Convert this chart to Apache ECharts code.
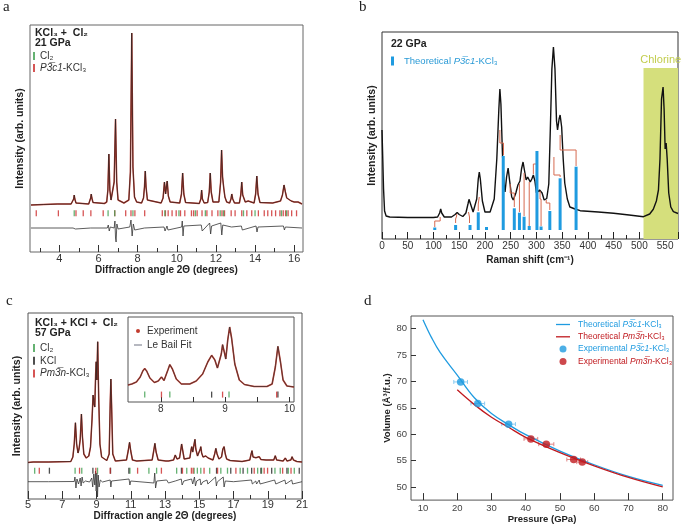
<!DOCTYPE html>
<html>
<head>
<meta charset="utf-8">
<script src="https://cdn.jsdelivr.net/npm/echarts@6/dist/echarts.min.js"></script>
<style>
  html, body { margin: 0; padding: 0; background: #fff; }
  #chart { width: 685px; height: 525px; }
</style>
</head>
<body>
<div id="chart"></div>
<script>
// ---------- panel a : XRD at 21 GPa ----------
const profA = [
  [2.55,47],[3.2,47.5],[3.9,48],[3.95,50],[4.0,48],[4.6,48],
  [4.68,49],[4.73,53],[4.76,57],[4.79,53],[4.85,49],
  [5.5,48],[5.57,50],[5.6,54],[5.63,58],[5.66,54],[5.72,49.5],
  [6.3,48.5],[6.42,50],[6.48,62],[6.53,98],[6.58,62],[6.64,52],[6.72,53],[6.8,70],[6.87,133],[6.93,70],[7.0,52],
  [7.3,49],[7.55,52],[7.63,80],[7.7,219],[7.76,85],[7.84,55],[7.95,50],
  [8.2,49],[8.3,54],[8.35,65],[8.39,81],[8.43,65],[8.5,52],
  [9.2,49],[9.3,54],[9.37,70],[9.43,58],[9.51,71],[9.57,56],[9.66,50],
  [10.15,49],[10.24,58],[10.3,79],[10.36,58],[10.45,49.5],
  [11.15,48.5],[11.23,53],[11.27,62],[11.31,53],[11.4,49],
  [11.58,49.5],[11.66,60],[11.71,79],[11.76,60],[11.85,50],
  [12.15,50],[12.24,70],[12.29,102],[12.34,75],[12.4,64],[12.46,55],[12.55,50],
  [12.7,49],[12.77,53],[12.81,58],[12.86,53],[12.95,49],
  [13.2,49],[13.27,57],[13.32,70],[13.37,57],[13.5,50],[13.65,51],[13.7,52],[13.75,50.5],
  [13.95,49],[14.03,58],[14.09,76],[14.15,58],[14.25,49.5],
  [14.9,49],[15.0,50],[15.3,51],[15.4,57],[15.48,67],[15.55,60],[15.62,54],[15.72,54.5],
  [15.85,51],[16.0,50],[16.1,51.5],[16.2,50],[16.4,48]
];
const diffA = [
  [2.55,24],[4.7,24],[4.76,26],[4.82,23],[5.6,24],[5.63,25.5],[5.68,23],[6.45,24],[6.5,27],[6.55,21],
  [6.6,25],[6.8,24],[6.84,31],[6.87,14],[6.9,10],[6.94,28],[7.0,23],[7.6,25],[7.66,32],[7.72,16],
  [7.78,28],[7.85,22],[8.35,24],[8.39,26],[8.43,22],[9.35,25],[9.4,21],[9.5,26],[9.55,22],[10.25,25],
  [10.28,31],[10.32,16],[10.36,26],[11.25,27],[11.3,21],[11.68,29],[11.73,18],[11.78,26],[12.25,29],
  [12.3,17],[12.35,27],[12.8,25],[13.3,26],[13.35,22],[14.05,26],[14.1,20],[14.15,25],[15.45,26],
  [15.5,22],[15.55,25],[16.4,24]
];
const reflA_Cl2 = [4.76,6.49,6.83,7.76,9.39,10.11,10.95,11.46,12.22,12.39,13.41,14.0,15.35,15.61];
const reflA_KCl3 = [2.82,3.95,4.85,5.22,5.61,6.24,6.83,7.39,7.66,7.86,8.36,9.26,9.42,9.56,9.76,9.97,
  10.19,10.41,10.75,10.86,11.04,11.29,11.54,11.80,12.10,12.31,12.44,12.78,12.98,13.32,13.58,13.83,
  14.17,14.47,14.65,14.85,15.05,15.27,15.44,15.56,15.69,15.87,16.12];
const tickRowA = 38.7;
const labelsA = [4,6,8,10,12,14,16];
const minorA = [3,5,7,9,11,13,15];

// ---------- panel b : Raman at 22 GPa ----------
const specB = [
  [0,109],[1.5,80],[3,50],[5,28],[8,23],[15,22],[50,21.5],[100,21.5],[108,22],[112,26],[114,30],[116,26],
  [121,22],[135,22],[142,24.5],[146,26.5],[150,24.5],[157,22.5],[163,26],[167,35],[169,39.7],[172,35],
  [177,27],[180,26],[184,40],[187,60],[189,67],[191,60],[195,38],[200,27],[210,27],[218,40],[223,80],
  [227,130],[229,150],[231,135],[234,85],[237,55],[239,47],[242,62],[245,71],[248,58],[252,42],[255,39],
  [260,46],[264,54],[268,58],[271,70],[274,77],[277,68],[280,59],[283,62],[285,63],[288,57],[291,60],
  [294,64],[297,58],[300,46],[303,45],[306,49],[308,50.7],[311,46],[315,39],[320,40.5],[324,55],
  [327,110],[330,170],[333,192],[336,170],[339,118],[341,109],[344,120],[346,124],[349,112],[352,80],
  [355,56],[360,40],[365,32],[375,30],[385,28.3],[420,27],[450,25.7],[480,24],[508,22.3],[520,25],
  [527,29.7],[533,38],[537,49],[540,80],[543,140],[546,152],[548,130],[550,90],[552,96],[554,80],
  [557,46],[561,32],[566,27.3],[575,25.5]
];
const modesB = [102.5,143,171,187,203,235.5,257,267,276,286,301,309,326,346,377];
const modeTopB = [11.5,14,14,26.7,12,83,30.7,26.3,22.3,13,88,12.5,28,60.7,72.3];
const modeBaseB = 9;
const linksB = [
  [[102.5,12],[102.5,18],[113,18],[113,22]],
  [[143,16],[143,20],[145,23],[145,25]],
  [[170,16],[170,22],[168,27]],
  [[187,28],[187,35],[189,42]],
  [[236,84],[236,96],[229,96],[229,109]],
  [[257,32],[257,46],[249,46],[249,55]],
  [[267,27],[267,55]],
  [[276,23],[276,66]],
  [[286,13],[286,57]],
  [[294,65],[294,75],[301,75]],
  [[309,13],[309,40],[307,40],[307,48]],
  [[326,29],[326,36],[319,36],[319,39]],
  [[346,62],[346,64],[334,64],[334,82]],
  [[377,73],[377,89],[346,89],[346,104]]
];
const chlorineBand = [508, 575];
const chlorineTop = 171;

// ---------- panel c : XRD at 57 GPa ----------
const profC = [
  [5,36.5],[5.3,37],[5.35,38.5],[5.4,37],[5.65,37],[5.7,38.5],[5.75,37],[6.2,37],[6.25,38],[6.3,37],
  [7.5,37.5],[7.62,42],[7.7,55],[7.77,76.3],[7.84,55],[7.92,46],[7.98,50],[8.05,59.7],[8.08,58],
  [8.12,85],[8.18,62],[8.26,45],[8.4,41],[8.55,43],[8.65,52],[8.74,80],[8.8,104],[8.86,95],[8.9,92],
  [8.95,125],[8.98,137.3],[9.02,119],[9.07,157.3],[9.13,100],[9.2,55],[9.3,42],[9.6,38.5],[9.74,45],
  [9.8,95],[9.84,120],[9.88,95],[9.95,45],[10.1,38],[10.75,39],[10.85,48],[10.93,56.7],[11.0,48],
  [11.1,39],[11.35,38],[11.4,39],[11.45,38],[12.25,39],[12.34,48],[12.41,55.7],[12.48,47],[12.6,39],
  [13.05,38],[13.13,39.7],[13.2,38],[13.5,39],[13.6,44],[13.7,40],[13.85,41],[13.93,50],[13.97,55],
  [14.02,50],[14.12,40],[14.45,41],[14.52,49],[14.56,52.3],[14.62,47],[14.7,55],[14.75,59.7],[14.8,50],
  [14.9,43],[15.0,45],[15.06,50],[15.09,52.3],[15.14,46],[15.22,42],[15.3,44],[15.38,43],[15.44,44],
  [15.52,41],[15.8,39],[15.9,45],[15.97,50.7],[16.04,45],[16.15,40],[16.3,42],[16.38,50],[16.45,52.3],
  [16.52,45],[16.6,40],[16.7,40],[16.8,38.5],[17.5,37.5],[17.95,39],[18.03,45],[18.08,48.3],[18.14,42],
  [18.25,40],[18.31,41.3],[18.4,39.5],[18.5,42.3],[18.6,39.5],[18.9,39],[19.0,38],[19.35,39],
  [19.44,43.3],[19.52,39],[19.9,38],[20.03,41],[20.12,38],[20.35,39],[20.42,42.3],[20.5,39],
  [20.7,37.5],[21,37]
];
const diffC = [
  [5,17.3],[6.2,17.3],[6.25,18.5],[6.3,17],[7.7,17.5],[7.74,22],[7.8,11],[7.86,20],[7.95,15],[8.05,21],
  [8.1,13],[8.16,22],[8.22,16],[8.35,18],[8.6,17],[8.72,21],[8.78,12],[8.84,25],[8.9,14],[8.94,28],
  [8.98,8],[9.02,26],[9.06,2],[9.1,24],[9.15,12],[9.22,19],[9.35,17],[9.8,19],[9.84,12],[9.88,18],
  [10.9,20],[10.95,14],[11,18],[12.35,16],[12.4,26],[12.45,11],[12.52,18],[13.1,19],[13.2,16],
  [13.6,18],[13.95,20],[14,14],[14.1,18],[14.55,20],[14.62,15],[14.72,22],[14.78,13],[14.85,18],
  [15.05,20],[15.1,14],[15.2,17],[15.45,19],[15.5,15],[15.95,22],[16.0,13],[16.05,17],[16.4,22],
  [16.45,12],[16.52,18],[17,17.3],[18.05,19],[18.1,15],[18.3,18],[18.35,15],[18.5,19],[18.55,15],
  [19.4,19],[19.47,15],[20.0,19],[20.05,15],[20.4,19],[20.45,15],[21,17.3]
];
const reflC_Cl2 = [5.39,7.75,8.14,9.06,10.95,12.06,12.51,13.68,14.27,14.70,14.89,15.09,15.61,16.26,
  16.65,17.39,17.82,18.41,18.64,19.42,19.73,20.2,20.55];
const reflC_KCl = [6.25,8.79,9.82,10.89,13.96,16.01,16.84,17.56,18.06,18.6,19.23,20.12,20.84];
const reflC_KCl3 = [5.66,8.01,8.96,9.80,11.40,12.79,14.02,14.54,14.64,15.28,16.07,17.14,18.21,18.79,
  18.99,19.87,20.36];
const tickRowC = 28.3;
const labelsC = [5,7,9,11,13,15,17,19,21];
const minorC = [6,8,10,12,14,16,18,20];

// inset of panel c
const profIn = [
  [7.49,17],[7.55,18],[7.62,20],[7.68,25],[7.72,31],[7.75,33.4],[7.78,31],[7.83,24],[7.9,19.5],
  [7.96,21],[8.01,25],[8.05,21.5],[8.08,22],[8.11,32],[8.14,37.4],[8.18,33],[8.24,23],[8.32,18],
  [8.45,18],[8.55,21],[8.65,28],[8.73,40],[8.79,46.7],[8.84,42],[8.88,34],[8.91,33],[8.94,48],
  [8.96,57.4],[8.99,49],[9.01,43],[9.04,62],[9.07,75],[9.1,64],[9.15,38],[9.22,22],[9.3,17.5],
  [9.45,15.5],[9.65,15.5],[9.73,18],[9.78,35],[9.82,55.7],[9.86,40],[9.9,22],[9.96,16],[10.07,15]
];
const reflIn_Cl2 = [7.75,8.14,9.06];
const reflIn_KCl = [8.79,9.82];
const reflIn_KCl3 = [8.01,8.96,9.80];
const tickRowIn = 7.4;
const labelsIn = [8,9,10];
const ticksIn = [8,8.5,9,9.5,10];

// ---------- panel d : equation of state ----------
const pTheoP = [10,12.5,15,20,25,30,35,40,50,60,70,80];
const vTheoP = [81.7,78.3,75.5,71.2,66.9,63.9,61.8,59.9,56.8,54.2,52.0,50.3];
const pTheoPm = [20,25,30,35,40,50,60,70,80];
const vTheoPm = [68.4,65.6,63.2,61.3,59.4,56.5,54.0,51.8,50.0];
const pExpP = [21,26,35];
const vExpP = [69.9,65.8,61.9];
const eExpP = [2,2,2];
const pExpPm = [41.5,46,54,56.5];
const vExpPm = [59.1,58.1,55.2,54.7];
const eExpPm = [2,2.2,2,1.6];
const labelsDx = [10,20,30,40,50,60,70,80];
const labelsDy = [50,55,60,65,70,75,80];

// ---------- styling ----------
const FONT = "'Liberation Sans', Arial, Helvetica, sans-serif";
const SERIF = "'Liberation Serif', 'DejaVu Serif', serif";
const GREEN = '#3f9f4f';
const RED = '#cc2a2a';
const OBS = '#c23b2e';
const BLUE = '#1f9be0';
const DRED = '#c01a1f';
const LINE_ICON = 'path://M0,0H14V1.3H0Z';

const zip = (a, b) => a.map((v, i) => [v, b[i]]);
const row = (xs, y) => xs.map(x => [x, y]);

function rich(c, s, pad) {
  return {
    f: { color: c, fontSize: s, fontFamily: FONT, padding: [0, 0, 0, pad || 0] },
    n: { color: c, fontSize: s, fontFamily: FONT },
    i: { color: c, fontSize: s, fontFamily: FONT, fontStyle: 'italic' }
  };
}
const legendText = {
  aCl2: '{n|Cl₂}',
  aKCl3: '{i|P3̅c1}{n|-KCl₃}',
  cCl2: '{n|Cl₂}',
  cKCl: '{n|KCl}',
  cKCl3: '{i|Pm3̅n}{n|-KCl₃}',
  bTheo: '{f|Theoretical }{i|P3̅c1}{n|-KCl₃}',
  inExp: '{n|Experiment}',
  inFit: '{n|Le Bail Fit}',
  dTheoP: '{fb|Theoretical }{ib|P3̅c1}{nb|-KCl₃}',
  dTheoPm: '{fr|Theoretical }{ir|Pm3̅n}{nr|-KCl₃}',
  dExpP: '{fb|Experimental }{ib|P3̅c1}{nb|-KCl₃}',
  dExpPm: '{fr|Experimental }{ir|Pm3̅n}{nr|-KCl₃}'
};
const fmt = name => legendText[name];

function tickSeries(name, data, color, xi, yi) {
  return {
    name, type: 'scatter', xAxisIndex: xi, yAxisIndex: yi, data,
    symbol: 'rect', symbolSize: [1.3, 6], itemStyle: { color }, silent: true, z: 3
  };
}
function hiddenY(grid, max, name, gap) {
  return {
    type: 'value', gridIndex: grid, min: 0, max,
    axisLine: { show: false }, axisTick: { show: false }, axisLabel: { show: false },
    splitLine: { show: false },
    name, nameLocation: 'middle', nameGap: gap,
    nameTextStyle: { fontFamily: FONT, fontWeight: 'bold', fontSize: 10.5, color: '#222' }
  };
}
const tickLabel = (size, margin) => ({ fontFamily: FONT, fontSize: size, color: '#333', margin });
const nameStyle = size => ({ fontFamily: FONT, fontWeight: 'bold', fontSize: size, color: '#222' });

const chart = echarts.init(document.getElementById('chart'), null, { renderer: 'canvas' });

chart.setOption({
  animation: false,
  backgroundColor: '#fff',
  grid: [
    { left: 30, top: 25, width: 273, height: 227, show: true, borderColor: '#666', borderWidth: 1 },
    { left: 382, top: 32, width: 296, height: 207, show: true, borderColor: '#333', borderWidth: 1 },
    { left: 28, top: 313, width: 274, height: 186, show: true, borderColor: '#555', borderWidth: 1 },
    { left: 128, top: 317, width: 166, height: 85, show: true, borderColor: '#555', borderWidth: 1, backgroundColor: '#fff' },
    { left: 411, top: 316, width: 262, height: 190, show: true, borderColor: '#555', borderWidth: 1 }
  ],
  xAxis: [
    { // 0: a
      type: 'value', gridIndex: 0, min: 2.5, max: 16.45,
      axisLine: { show: false },
      axisTick: { inside: true, length: 7, customValues: labelsA, lineStyle: { color: '#333' } },
      axisLabel: Object.assign(tickLabel(11, 1), { customValues: labelsA }),
      splitLine: { show: false },
      name: 'Diffraction angle 2Θ (degrees)', nameLocation: 'middle', nameGap: 11, nameTextStyle: nameStyle(10)
    },
    { // 1: a minor ticks
      type: 'value', gridIndex: 0, min: 2.5, max: 16.45, position: 'top', offset: -227,
      axisLine: { show: false },
      axisTick: { inside: false, length: 4, customValues: minorA, lineStyle: { color: '#333' } },
      axisLabel: { show: false }, splitLine: { show: false }
    },
    { // 2: b
      type: 'value', gridIndex: 1, min: 0, max: 575, interval: 50,
      axisLine: { show: false },
      axisTick: { inside: true, length: 7, lineStyle: { color: '#222' } },
      minorTick: { show: true, splitNumber: 2, length: 4, lineStyle: { color: '#222' } },
      axisLabel: Object.assign(tickLabel(10, 2), { showMaxLabel: false }),
      splitLine: { show: false },
      name: 'Raman shift (cm⁻¹)', nameLocation: 'middle', nameGap: 16, nameTextStyle: nameStyle(10)
    },
    { // 3: c
      type: 'value', gridIndex: 2, min: 5, max: 21,
      axisLine: { show: false },
      axisTick: { inside: true, length: 8, customValues: labelsC, lineStyle: { color: '#333' } },
      axisLabel: Object.assign(tickLabel(11, 0), { customValues: labelsC }),
      splitLine: { show: false },
      name: 'Diffraction angle 2Θ (degrees)', nameLocation: 'middle', nameGap: 10, nameTextStyle: nameStyle(10)
    },
    { // 4: c minor ticks
      type: 'value', gridIndex: 2, min: 5, max: 21, position: 'top', offset: -186,
      axisLine: { show: false },
      axisTick: { inside: false, length: 4, customValues: minorC, lineStyle: { color: '#333' } },
      axisLabel: { show: false }, splitLine: { show: false }
    },
    { // 5: inset
      type: 'value', gridIndex: 3, min: 7.49, max: 10.07,
      axisLine: { show: false },
      axisTick: { inside: true, length: 5, customValues: ticksIn, lineStyle: { color: '#333' } },
      axisLabel: Object.assign(tickLabel(10, 2), { customValues: labelsIn }),
      splitLine: { show: false }
    },
    { // 6: d
      type: 'value', gridIndex: 4, min: 6.5, max: 83,
      axisLine: { show: false },
      axisTick: { inside: true, length: 7, customValues: labelsDx, lineStyle: { color: '#333' } },
      axisLabel: Object.assign(tickLabel(9.5, 3), { customValues: labelsDx, color: '#444' }),
      splitLine: { show: false },
      name: 'Pressure (GPa)', nameLocation: 'middle', nameGap: 13, nameTextStyle: nameStyle(9.5)
    }
  ],
  yAxis: [
    hiddenY(0, 227, 'Intensity (arb. units)', 4),
    hiddenY(1, 207, 'Intensity (arb. units)', 4),
    hiddenY(2, 186, 'Intensity (arb. units)', 5),
    hiddenY(3, 85, '', 0),
    {
      type: 'value', gridIndex: 4, min: 47.5, max: 82.4,
      axisLine: { show: false },
      axisTick: { inside: true, length: 5, customValues: labelsDy, lineStyle: { color: '#333' } },
      axisLabel: Object.assign(tickLabel(9.5, 4), { customValues: labelsDy, color: '#444' }),
      splitLine: { show: false },
      name: 'Volume (Å³/f.u.)', nameLocation: 'middle', nameGap: 12, nameTextStyle: nameStyle(9.5)
    }
  ],
  legend: [
    { // a
      left: 33, top: 51, orient: 'vertical', padding: 0, itemGap: 2, itemWidth: 2, itemHeight: 8,
      icon: 'rect', selectedMode: false, formatter: fmt,
      textStyle: { rich: rich('#333', 10) }, data: ['aCl2', 'aKCl3']
    },
    { // c
      left: 33, top: 343, orient: 'vertical', padding: 0, itemGap: 2.8, itemWidth: 2, itemHeight: 8,
      icon: 'rect', selectedMode: false, formatter: fmt,
      textStyle: { rich: rich('#333', 10) }, data: ['cCl2', 'cKCl', 'cKCl3']
    },
    { // b
      left: 391, top: 56, orient: 'vertical', padding: 0, itemWidth: 3, itemHeight: 9,
      icon: 'rect', selectedMode: false, formatter: fmt,
      textStyle: { rich: rich('#2a9ad6', 9.5, 5) }, data: ['bTheo']
    },
    { // inset
      left: 134, top: 326, orient: 'vertical', padding: 0, itemGap: 4, itemWidth: 8, itemHeight: 4,
      selectedMode: false, formatter: fmt,
      textStyle: { rich: rich('#333', 10) },
      data: [{ name: 'inExp', icon: 'circle' }, { name: 'inFit', icon: LINE_ICON }]
    },
    { // d
      left: 556, top: 320, orient: 'vertical', padding: 0, itemGap: 3.3, itemWidth: 14, itemHeight: 7,
      selectedMode: false, formatter: fmt,
      textStyle: {
        rich: {
          fb: { color: BLUE, fontSize: 8.5, fontFamily: FONT, padding: [0, 0, 0, 3] },
          nb: { color: BLUE, fontSize: 8.5, fontFamily: FONT },
          ib: { color: BLUE, fontSize: 8.5, fontFamily: FONT, fontStyle: 'italic' },
          fr: { color: DRED, fontSize: 8.5, fontFamily: FONT, padding: [0, 0, 0, 3] },
          nr: { color: DRED, fontSize: 8.5, fontFamily: FONT },
          ir: { color: DRED, fontSize: 8.5, fontFamily: FONT, fontStyle: 'italic' }
        }
      },
      data: [{ name: 'dTheoP', icon: LINE_ICON }, { name: 'dTheoPm', icon: LINE_ICON },
        { name: 'dExpP', icon: 'circle' }, { name: 'dExpPm', icon: 'circle' }]
    }
  ],
  series: [
    // ----- a -----
    { name: 'aObs', type: 'line', xAxisIndex: 0, yAxisIndex: 0, data: profA, showSymbol: false, silent: true,
      lineStyle: { color: OBS, width: 1.5 }, z: 2 },
    { name: 'aCalc', type: 'line', xAxisIndex: 0, yAxisIndex: 0, data: profA, showSymbol: false, silent: true,
      lineStyle: { color: '#222', width: 0.7 }, z: 4 },
    { name: 'aDiff', type: 'line', xAxisIndex: 0, yAxisIndex: 0, data: diffA, showSymbol: false, silent: true,
      lineStyle: { color: '#333', width: 0.8 } },
    tickSeries('aKCl3', row(reflA_KCl3, tickRowA), RED, 0, 0),
    tickSeries('aCl2', row(reflA_Cl2, tickRowA), GREEN, 0, 0),

    // ----- b -----
    { name: 'bSpec', type: 'line', xAxisIndex: 2, yAxisIndex: 1, data: specB, showSymbol: false, silent: true,
      lineStyle: { color: '#111', width: 1.4 }, z: 3,
      markArea: {
        silent: true,
        itemStyle: { color: '#d5df7c' },
        label: { show: true, position: 'top', distance: 3, color: '#c2cd4d', fontSize: 11, fontFamily: FONT },
        data: [[{ name: 'Chlorine', coord: [chlorineBand[0], 0] }, { coord: [chlorineBand[1], chlorineTop] }]]
      }
    },
    { name: 'bLinks', type: 'lines', coordinateSystem: 'cartesian2d', xAxisIndex: 2, yAxisIndex: 1,
      polyline: true, silent: true, z: 4,
      lineStyle: { color: '#d66a50', width: 1, opacity: 1 },
      data: linksB.map(c => ({ coords: c }))
    },
    { name: 'bTheo', type: 'custom', xAxisIndex: 2, yAxisIndex: 1, data: zip(modesB, modeTopB), silent: true, z: 5,
      itemStyle: { color: BLUE },
      renderItem: function (params, api) {
        const b = api.coord([api.value(0), modeBaseB]);
        const t = api.coord([api.value(0), api.value(1)]);
        return { type: 'rect', shape: { x: b[0] - 1.5, y: t[1], width: 3, height: b[1] - t[1] },
          style: { fill: api.visual('color') } };
      }
    },

    // ----- c -----
    { name: 'cObs', type: 'line', xAxisIndex: 3, yAxisIndex: 2, data: profC, showSymbol: false, silent: true,
      lineStyle: { color: OBS, width: 1.5 }, z: 2 },
    { name: 'cCalc', type: 'line', xAxisIndex: 3, yAxisIndex: 2, data: profC, showSymbol: false, silent: true,
      lineStyle: { color: '#222', width: 0.7 }, z: 4 },
    { name: 'cDiff', type: 'line', xAxisIndex: 3, yAxisIndex: 2, data: diffC, showSymbol: false, silent: true,
      lineStyle: { color: '#333', width: 0.8 } },
    tickSeries('cCl2', row(reflC_Cl2, tickRowC), GREEN, 3, 2),
    tickSeries('cKCl', row(reflC_KCl, tickRowC), '#222', 3, 2),
    tickSeries('cKCl3', row(reflC_KCl3, tickRowC), RED, 3, 2),

    // ----- inset -----
    { name: 'inExp', type: 'line', xAxisIndex: 5, yAxisIndex: 3, data: profIn, showSymbol: false, silent: true,
      itemStyle: { color: OBS }, lineStyle: { color: OBS, width: 1.6 }, z: 6 },
    { name: 'inFit', type: 'line', xAxisIndex: 5, yAxisIndex: 3, data: profIn, showSymbol: false, silent: true,
      itemStyle: { color: '#3a3f55' }, lineStyle: { color: '#333', width: 0.7 }, z: 7 },
    tickSeries('inCl2', row(reflIn_Cl2, tickRowIn), GREEN, 5, 3),
    tickSeries('inKCl', row(reflIn_KCl, tickRowIn), '#222', 5, 3),
    tickSeries('inKCl3', row(reflIn_KCl3, tickRowIn), RED, 5, 3),

    // ----- d -----
    { name: 'dTheoP', type: 'line', xAxisIndex: 6, yAxisIndex: 4, data: zip(pTheoP, vTheoP), smooth: 0.4,
      symbol: 'none', silent: true, itemStyle: { color: BLUE }, lineStyle: { color: BLUE, width: 1.3 } },
    { name: 'dTheoPm', type: 'line', xAxisIndex: 6, yAxisIndex: 4, data: zip(pTheoPm, vTheoPm), smooth: 0.4,
      symbol: 'none', silent: true, itemStyle: { color: DRED }, lineStyle: { color: DRED, width: 1.3 } },
    { name: 'dErr', type: 'custom', xAxisIndex: 6, yAxisIndex: 4, silent: true, z: 3,
      data: pExpP.map((p, i) => [p, vExpP[i], eExpP[i], 0]).concat(pExpPm.map((p, i) => [p, vExpPm[i], eExpPm[i], 1])),
      renderItem: function (params, api) {
        const x = api.value(0), y = api.value(1), e = api.value(2);
        const col = api.value(3) ? '#e08585' : '#8ccbf0';
        const l = api.coord([x - e, y]), r = api.coord([x + e, y]);
        const st = { stroke: col, lineWidth: 1 };
        return { type: 'group', children: [
          { type: 'line', shape: { x1: l[0], y1: l[1], x2: r[0], y2: r[1] }, style: st },
          { type: 'line', shape: { x1: l[0], y1: l[1] - 2, x2: l[0], y2: l[1] + 2 }, style: st },
          { type: 'line', shape: { x1: r[0], y1: r[1] - 2, x2: r[0], y2: r[1] + 2 }, style: st }
        ] };
      }
    },
    { name: 'dExpP', type: 'scatter', xAxisIndex: 6, yAxisIndex: 4, data: zip(pExpP, vExpP), symbolSize: 7.5,
      silent: true, itemStyle: { color: BLUE }, z: 5 },
    { name: 'dExpPm', type: 'scatter', xAxisIndex: 6, yAxisIndex: 4, data: zip(pExpPm, vExpPm), symbolSize: 7.5,
      silent: true, itemStyle: { color: DRED }, z: 5 }
  ],
  graphic: [
    { type: 'text', left: 3, top: 0, style: { text: 'a', fontFamily: SERIF, fontSize: 15, fill: '#222' } },
    { type: 'text', left: 359, top: 0, style: { text: 'b', fontFamily: SERIF, fontSize: 15, fill: '#222' } },
    { type: 'text', left: 6, top: 294, style: { text: 'c', fontFamily: SERIF, fontSize: 15, fill: '#222' } },
    { type: 'text', left: 364, top: 294, style: { text: 'd', fontFamily: SERIF, fontSize: 15, fill: '#222' } },
    { type: 'text', left: 35, top: 28, style: { text: 'KCl₃ +  Cl₂', fontFamily: FONT, fontWeight: 'bold', fontSize: 10.5, fill: '#222' } },
    { type: 'text', left: 35, top: 38, style: { text: '21 GPa', fontFamily: FONT, fontWeight: 'bold', fontSize: 10.5, fill: '#222' } },
    { type: 'text', left: 391, top: 39, style: { text: '22 GPa', fontFamily: FONT, fontWeight: 'bold', fontSize: 10.5, fill: '#222' } },
    { type: 'text', left: 35, top: 318, style: { text: 'KCl₃ + KCl +  Cl₂', fontFamily: FONT, fontWeight: 'bold', fontSize: 10.5, fill: '#222' } },
    { type: 'text', left: 35, top: 328, style: { text: '57 GPa', fontFamily: FONT, fontWeight: 'bold', fontSize: 10.5, fill: '#222' } }
  ]
});
</script>
</body>
</html>
